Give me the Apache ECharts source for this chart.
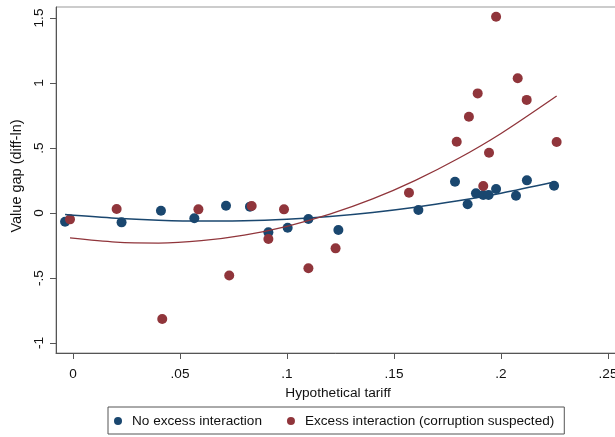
<!DOCTYPE html>
<html lang="en">
  <head>
    <meta charset="UTF-8" />
    <title>Value gap vs hypothetical tariff</title>
    <script src="https://cdn.jsdelivr.net/npm/echarts@6.0.0/dist/echarts.min.js"></script>
    <style>
      html, body { margin: 0; padding: 0; background: #fff; }
    </style>
  </head>
  <body>
    <div id="main" style="width: 615px; height: 437px"></div>
  </body>
  <script>
    // points
    const blueX = [-0.0037, 0.0227, 0.0411, 0.0567, 0.0715, 0.0827, 0.0913, 0.1003, 0.11, 0.124,
      0.1614, 0.1785, 0.1844, 0.1883, 0.1917, 0.1942, 0.1977, 0.207, 0.2121, 0.2248];
    const blueY = [-0.067, -0.072, 0.018, -0.041, 0.056, 0.049, -0.149, -0.113, -0.046, -0.131,
      0.023, 0.241, 0.067, 0.151, 0.138, 0.138, 0.185, 0.133, 0.251, 0.21];

    const redX = [-0.0014, 0.0204, 0.0417, 0.0586, 0.073, 0.0835, 0.0913, 0.0986, 0.11, 0.1227,
      0.157, 0.1793, 0.185, 0.1891, 0.1917, 0.1944, 0.1977, 0.2078, 0.212, 0.226];
    const redY = [-0.049, 0.031, -0.815, 0.028, -0.481, 0.054, -0.2, 0.028, -0.425, -0.272,
      0.156, 0.548, 0.74, 0.92, 0.208, 0.464, 1.51, 1.036, 0.87, 0.546];

    // fitted curves
    const blueFitX = [-0.0037, 0.02, 0.04, 0.06, 0.08, 0.1, 0.12, 0.14, 0.16, 0.18, 0.2, 0.2248];
    const blueFitY = [-0.012, -0.04, -0.055, -0.062, -0.06, -0.048, -0.027, 0.004, 0.044, 0.094, 0.152, 0.238];
    const redFitX = [-0.0014, 0.02, 0.04, 0.06, 0.08, 0.1, 0.12, 0.14, 0.16, 0.18, 0.2, 0.226];
    const redFitY = [-0.192, -0.224, -0.231, -0.213, -0.17, -0.102, -0.009, 0.108, 0.251, 0.419, 0.612, 0.9];

    const xTicks = [0, 0.05, 0.1, 0.15, 0.2, 0.25];
    const yTicks = [-1, -0.5, 0, 0.5, 1, 1.5];

    const seriesNames = ["No excess interaction", "Excess interaction (corruption suspected)"];
    const navy = "#1a476f";
    const maroon = "#90353b";
    const font = "Liberation Sans, Arial, sans-serif";

    // stata style: 0.05 -> .05, -0.5 -> -.5
    function stataNum(v) {
      return String(v).replace(/^(-?)0\./, "$1.");
    }
    function pairs(xs, ys) {
      return xs.map((x, i) => [x, ys[i]]);
    }

    var myChart = echarts.init(document.getElementById("main"));

    var option = {
      animation: false,
      backgroundColor: "#fff",
      grid: {
        left: 56,
        top: 7,
        bottom: 84,
        right: -5,
        show: true,
        borderColor: "#999",
        borderWidth: 1,
        backgroundColor: "#fff",
        containLabel: false,
        outerBoundsMode: "none",
      },
      legend: {
        data: seriesNames,
        left: 108,
        top: 407,
        orient: "horizontal",
        icon: "circle",
        itemWidth: 18,
        itemHeight: 8,
        itemGap: 25,
        padding: [7, 10, 6, 6],
        borderColor: "#555",
        borderWidth: 1,
        textStyle: { fontFamily: font, fontSize: 13.6, color: "#111" },
      },
      xAxis: {
        type: "value",
        min: -0.00794,
        max: 0.2556,
        name: "Hypothetical tariff",
        nameLocation: "middle",
        nameGap: 29,
        nameTextStyle: { fontFamily: font, fontSize: 13.7, color: "#111" },
        axisLine: { show: true, onZero: false, lineStyle: { color: "#555", width: 1 } },
        axisTick: { show: true, length: 6, customValues: xTicks, lineStyle: { color: "#555" } },
        axisLabel: {
          customValues: xTicks,
          formatter: stataNum,
          margin: 14,
          fontFamily: font,
          fontSize: 13.6,
          color: "#111",
        },
        splitLine: { show: false },
      },
      yAxis: {
        type: "value",
        min: -1.0769,
        max: 1.5846,
        name: "Value gap (diff-ln)",
        nameLocation: "middle",
        nameGap: 31,
        nameTextStyle: { fontFamily: font, fontSize: 14.5, color: "#111", padding: [0, 0, 0, 8] },
        axisLine: { show: true, onZero: false, lineStyle: { color: "#555", width: 1 } },
        axisTick: { show: true, length: 6, customValues: yTicks, lineStyle: { color: "#555" } },
        axisLabel: {
          customValues: yTicks,
          formatter: stataNum,
          rotate: 90,
          margin: 10,
          fontFamily: font,
          fontSize: 13.6,
          color: "#111",
        },
        splitLine: { show: false },
      },
      series: [
        {
          name: seriesNames[0],
          type: "scatter",
          data: pairs(blueX, blueY),
          symbolSize: 10,
          itemStyle: { color: navy, opacity: 1 },
          z: 2,
        },
        {
          name: seriesNames[1],
          type: "scatter",
          data: pairs(redX, redY),
          symbolSize: 10,
          itemStyle: { color: maroon, opacity: 1 },
          z: 2,
        },
        {
          name: "fit1",
          type: "line",
          data: pairs(blueFitX, blueFitY),
          smooth: 0.3,
          showSymbol: false,
          lineStyle: { color: navy, width: 1.5 },
          z: 3,
        },
        {
          name: "fit2",
          type: "line",
          data: pairs(redFitX, redFitY),
          smooth: 0.3,
          showSymbol: false,
          lineStyle: { color: maroon, width: 1.3 },
          z: 3,
        },
      ],
    };

    myChart.setOption(option);
  </script>
</html>
